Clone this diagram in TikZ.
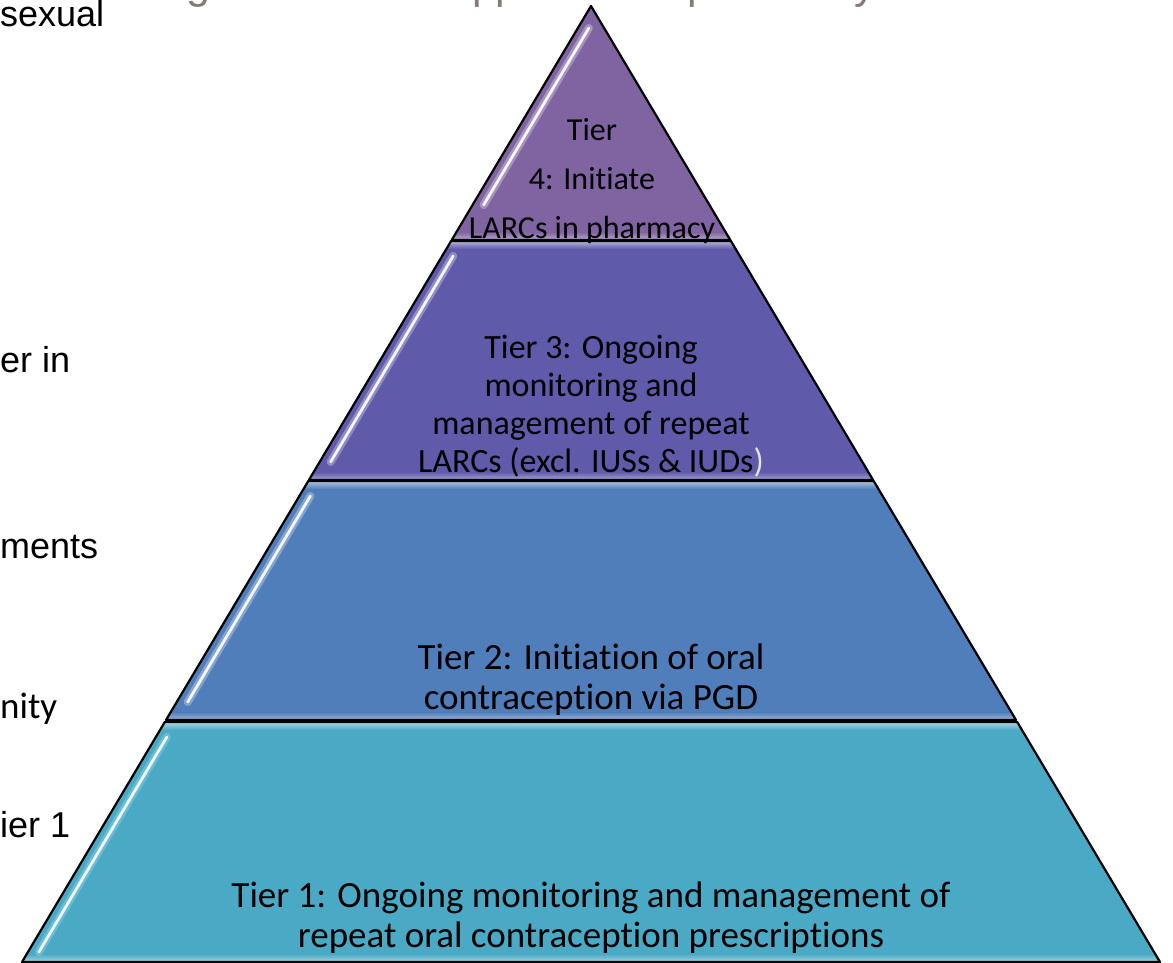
\documentclass[tikz,border=0pt]{standalone}
\usepackage{fontspec}
\setmainfont{Carlito}[Ligatures={NoCommon}]
\newfontfamily\arialf{Liberation Sans}
\definecolor{tierA}{RGB}{74,170,197}
\definecolor{tierB}{RGB}{80,126,187}
\definecolor{tierC}{RGB}{95,90,170}
\definecolor{tierD}{RGB}{128,100,162}
\definecolor{titlegrey}{RGB}{133,123,118}
\begin{document}
\begin{tikzpicture}[x=1pt,y=-1pt,
  tierbox/.style={draw=black,line width=2.2pt,line join=round},
  glowline/.style={line width=8pt,line cap=round,draw=white,opacity=0.3},
  shineline/.style={line width=2.8pt,line cap=round,draw=white,opacity=0.9},
  tiertext/.style={align=center,text=black,inner sep=0pt},
  sidetext/.style={anchor=base west,inner sep=0pt,text=black,font=\arialf\fontsize{36}{40}\selectfont}
]
\useasboundingbox (0,0) rectangle (1173,963);

% partly hidden title
\begin{scope}
\clip (0,0) rectangle (1173,14);
\node[anchor=base west,inner sep=0pt,text=titlegrey,font=\arialf\fontsize{43}{50}\selectfont] (title) at (80,-1) {Tiering: a stratified approach to pharmacy};
\end{scope}

% side texts cut at the left edge
\node[sidetext] (s1) at (0,27) {sexual};
\node[sidetext] (s2) at (0,372) {er in};
\node[sidetext] (s3) at (0,558) {ments};
\node[sidetext,font=\fontsize{37}{40}\selectfont] (s4) at (0,718) {nity};
\node[sidetext] (s5) at (0,837) {ier 1};

% Tier 1
\fill[tierA] (164.8,722) -- (1017.2,722) -- (1160,962) -- (22,962) -- cycle;
\shade[top color=tierA!45!white,bottom color=tierA] (164.8,722) -- (1017.2,722) -- (1021.9,730) -- (160.1,730) -- cycle;
\shade[top color=tierA,bottom color=tierA!50!white] (26.8,954) -- (1155.2,954) -- (1160,962) -- (22,962) -- cycle;
\draw[glowline,draw=cyan!30!white] (166.9,737) -- (38.9,952);
\draw[shineline] (166.9,737) -- (38.9,952);
\draw[tierbox] (164.8,722) -- (1017.2,722) -- (1160,962) -- (22,962) -- cycle;

% Tier 2
\fill[tierB] (308.3,481) -- (873.7,481) -- (1016,720) -- (166,720) -- cycle;
\shade[top color=tierB!45!white,bottom color=tierB] (308.3,481) -- (873.7,481) -- (878.5,489) -- (303.5,489) -- cycle;
\shade[top color=tierB,bottom color=tierB!55!white] (170.8,712) -- (1011.2,712) -- (1016,720) -- (166,720) -- cycle;
\draw[glowline] (310.4,496) -- (187.7,702);
\draw[shineline] (310.4,496) -- (187.7,702);
\draw[tierbox] (308.3,481) -- (873.7,481) -- (1016,720) -- (166,720) -- cycle;

% Tier 3
\fill[tierC] (451.1,241) -- (730.9,241) -- (873.1,480) -- (308.9,480) -- cycle;
\shade[top color=tierC!45!white,bottom color=tierC] (451.1,241) -- (730.9,241) -- (735.6,249) -- (446.4,249) -- cycle;
\shade[top color=tierC,bottom color=tierC!55!white] (313.6,472) -- (868.4,472) -- (873.1,480) -- (308.9,480) -- cycle;
\draw[glowline] (453.2,256) -- (330.6,462);
\draw[shineline] (453.2,256) -- (330.6,462);
\draw[tierbox] (451.1,241) -- (730.9,241) -- (873.1,480) -- (308.9,480) -- cycle;

% Tier 4
\fill[tierD] (591,6) -- (730.3,240) -- (451.7,240) -- cycle;
\shade[top color=tierD,bottom color=tierD!55!white] (456.5,232) -- (725.5,232) -- (730.3,240) -- (451.7,240) -- cycle;
\draw[glowline] (588.9,28) -- (483.6,205);
\draw[shineline] (588.9,28) -- (483.6,205);
\draw[tierbox] (591,6) -- (730.3,240) -- (451.7,240) -- cycle;

% texts
\node[tiertext,font=\fontsize{32}{49}\selectfont] (t4txt) at (592,181) {Tier\\4: Initiate\\LARCs in pharmacy};
\node[tiertext,font=\fontsize{34}{38}\selectfont] (t3txt) at (591,406) {Tier 3: Ongoing\\monitoring and\\management of repeat\\LARCs (excl. IUSs \& IUDs{\color{white!88!black})}};
\node[tiertext,font=\fontsize{37}{40}\selectfont] (t2txt) at (591,680) {Tier 2: Initiation of oral\\contraception via PGD};
\node[tiertext,font=\fontsize{37}{40}\selectfont] (t1txt) at (591,918) {Tier 1: Ongoing monitoring and management of\\repeat oral contraception prescriptions};
\end{tikzpicture}
\end{document}
